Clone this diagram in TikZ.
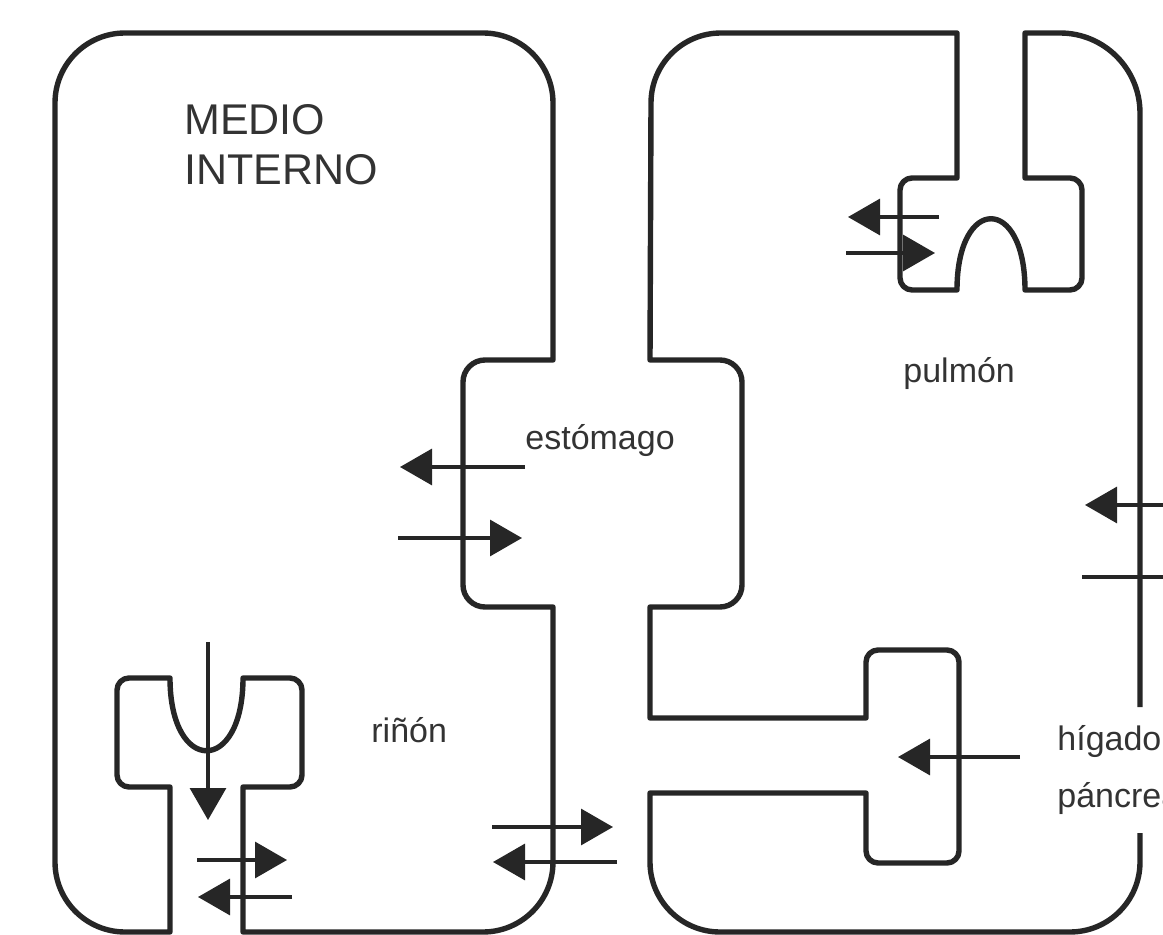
\documentclass[tikz,border=0pt]{standalone}
\usepackage{fontspec}
\setmainfont{Liberation Sans}
\usetikzlibrary{arrows.meta}
\tikzset{
  x=0.5pt, y=0.5pt,
  >={Triangle[length=16pt,width=18pt]},
  wall/.style={draw=black!85, line width=2.7pt, line join=round},
  flux/.style={->, draw=black!85, line width=1.6pt},
  lab/.style={font=\fontsize{17}{28.5}\selectfont, text=black!80, inner sep=0pt, align=left},
  title/.style={font=\fontsize{21.5}{25}\selectfont, text=black!80, inner sep=0pt, align=left}
}
\begin{document}
\begin{tikzpicture}
\useasboundingbox (0,0) rectangle (1163,-935);
\draw[wall] (170,-932) -- (125,-932) arc[start angle=270,end angle=180,radius=70]
  -- (55,-103) arc[start angle=180,end angle=90,radius=70]
  -- (483,-33) arc[start angle=90,end angle=0,radius=70]
  -- (553,-360) -- (485,-360) arc[start angle=90,end angle=180,radius=22]
  -- (463,-585) arc[start angle=180,end angle=270,radius=22]
  -- (553,-607) -- (553,-862) arc[start angle=0,end angle=-90,radius=70]
  -- (243,-932) -- (243,-787) -- (290,-787) arc[start angle=270,end angle=360,radius=12]
  -- (302,-690) arc[start angle=0,end angle=90,radius=12]
  -- (243,-678) .. controls (243,-775) and (170,-775) .. (170,-678)
  -- (129,-678) arc[start angle=90,end angle=180,radius=12]
  -- (117,-775) arc[start angle=180,end angle=270,radius=12]
  -- (170,-787) -- cycle;
\draw[wall] (1140,-707) -- (1140,-113) arc[start angle=0,end angle=90,radius=80]
  -- (1025,-33) -- (1025,-178) -- (1070,-178) arc[start angle=90,end angle=0,radius=12]
  -- (1082,-278) arc[start angle=0,end angle=-90,radius=12]
  -- (1025,-290) .. controls (1025,-195) and (957,-195) .. (957,-290)
  -- (912,-290) arc[start angle=270,end angle=180,radius=12]
  -- (900,-190) arc[start angle=180,end angle=90,radius=12]
  -- (957,-178) -- (957,-33) -- (721,-33) arc[start angle=90,end angle=180,radius=70]
  -- (650,-360) -- (720,-360) arc[start angle=90,end angle=0,radius=22]
  -- (742,-585) arc[start angle=0,end angle=-90,radius=22]
  -- (650,-607) -- (650,-718) -- (866,-718) -- (866,-662) arc[start angle=180,end angle=90,radius=12]
  -- (947,-650) arc[start angle=90,end angle=0,radius=12]
  -- (959,-851) arc[start angle=0,end angle=-90,radius=12]
  -- (878,-863) arc[start angle=270,end angle=180,radius=12]
  -- (866,-793) -- (650,-793) -- (650,-862) arc[start angle=180,end angle=270,radius=70]
  -- (1070,-932) arc[start angle=270,end angle=360,radius=70]
  -- (1140,-833);
\node[title, anchor=base west] (medio) at (184,-185) {MEDIO\\INTERNO};
\node[lab, anchor=base west] (estomago) at (525,-450) {estómago};
\node[lab, anchor=base west] (pulmon) at (903,-383) {pulmón};
\node[lab, anchor=base west] (rinon) at (371,-742) {riñón};
\node[lab, anchor=base west] (higado) at (1057,-807) {hígado\\páncreas};
\draw[flux] (939,-217) -- (848,-217);
\draw[flux] (846,-253) -- (935,-253);
\draw[flux] (525,-467) -- (400,-467);
\draw[flux] (398,-538) -- (522,-538);
\draw[flux] (208,-642) -- (208,-820);
\draw[flux] (197,-860) -- (287,-860);
\draw[flux] (292,-897) -- (198,-897);
\draw[flux] (492,-827) -- (613,-827);
\draw[flux] (617,-862) -- (493,-862);
\draw[flux] (1020,-757) -- (898,-757);
\draw[flux] (1200,-505) -- (1085,-505);
\draw[flux] (1082,-577) -- (1200,-577);
\end{tikzpicture}
\end{document}
